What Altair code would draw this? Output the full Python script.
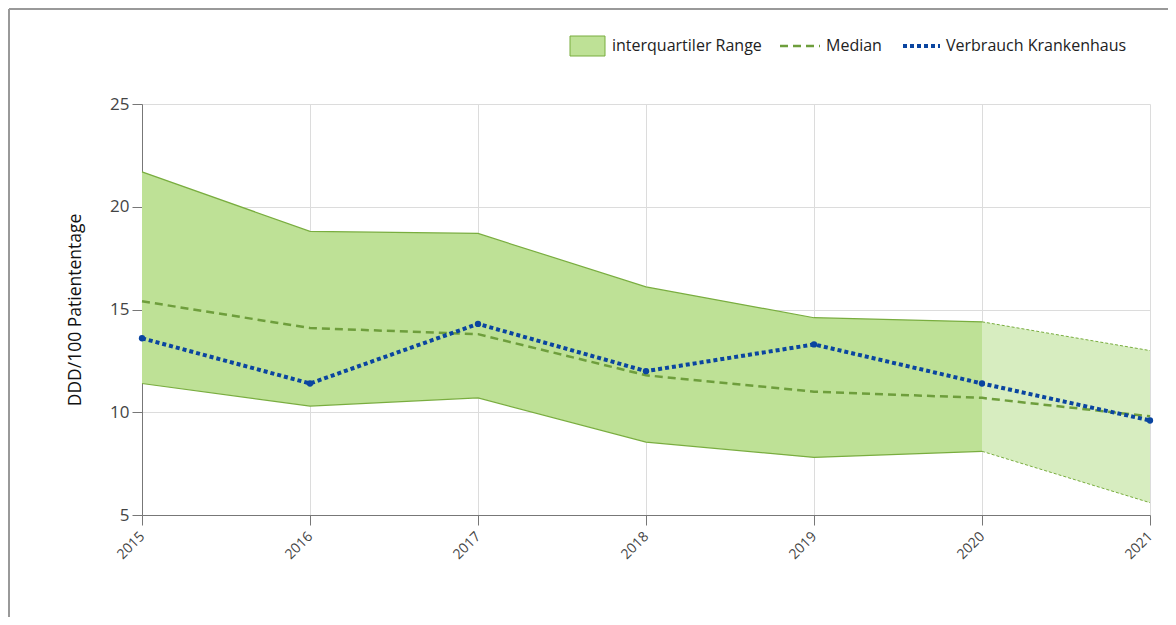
import altair as alt
import pandas as pd

years = [2015, 2016, 2017, 2018, 2019, 2020, 2021]
q_upper = [21.7, 18.8, 18.7, 16.1, 14.6, 14.4, 13.0]
q_lower = [11.4, 10.3, 10.7, 8.55, 7.8, 8.1, 5.6]
median = [15.4, 14.1, 13.8, 11.8, 11.0, 10.7, 9.8]
hospital = [13.6, 11.4, 14.3, 12.0, 13.3, 11.4, 9.6]

FONT = "Open Sans"
W, H = 1008, 411
GREEN_FILL = "#BEE196"
GREEN_LINE = "#79AD3F"
MED_COL = "#6E9E3C"
BLUE = "#0A45A0"

df = pd.DataFrame({"year": years, "lo": q_lower, "hi": q_upper,
                   "med": median, "hosp": hospital})
solid = df[df.year <= 2020]
proj = df[df.year >= 2020]

x = alt.X("year:Q", scale=alt.Scale(domain=[2015, 2021], nice=False, zero=False),
          axis=alt.Axis(values=years, format="d", title=None, labelAngle=315,
                        labelAlign="right", labelBaseline="middle", labelFontSize=14,
                        labelColor="#444", labelFont=FONT, tickSize=10, tickColor="#777",
                        domainColor="#777", gridColor="#DCDCDC", labelPadding=9))
yax = alt.Axis(values=[5, 10, 15, 20, 25], title="DDD/100 Patiententage",
               titleFont=FONT, titleFontSize=17.5, titleFontWeight="normal",
               titleColor="#111", titlePadding=25, labelFont=FONT, labelFontSize=17,
               labelColor="#444", tickSize=10, tickColor="#777", domainColor="#777",
               gridColor="#DCDCDC", labelPadding=3)
y_lo = alt.Y("lo:Q", scale=alt.Scale(domain=[5, 25], nice=False, zero=False), axis=yax)

area_solid = alt.Chart(solid).mark_area(color=GREEN_FILL, opacity=1).encode(
    x=x, y=y_lo, y2="hi:Q")
area_proj = alt.Chart(proj).mark_area(color="#D7EDC0", opacity=1).encode(
    x="year:Q", y="lo:Q", y2="hi:Q")
lo_solid = alt.Chart(solid).mark_line(color=GREEN_LINE, strokeWidth=1.2).encode(
    x="year:Q", y="lo:Q")
hi_solid = alt.Chart(solid).mark_line(color=GREEN_LINE, strokeWidth=1.2).encode(
    x="year:Q", y="hi:Q")
lo_proj = alt.Chart(proj).mark_line(color=GREEN_LINE, strokeWidth=1, strokeDash=[3, 2]).encode(
    x="year:Q", y="lo:Q")
hi_proj = alt.Chart(proj).mark_line(color=GREEN_LINE, strokeWidth=1, strokeDash=[3, 2]).encode(
    x="year:Q", y="hi:Q")
med_line = alt.Chart(df).mark_line(color=MED_COL, strokeWidth=2.5, strokeDash=[8, 5]).encode(
    x="year:Q", y="med:Q")
hosp_line = alt.Chart(df).mark_line(color=BLUE, strokeWidth=4, strokeDash=[4, 3]).encode(
    x="year:Q", y="hosp:Q")
hosp_pts = alt.Chart(df).mark_circle(color=BLUE, size=40, opacity=1).encode(
    x="year:Q", y="hosp:Q")

# legend (decoration)
leg = pd.DataFrame({"k": [0]})
base = alt.Chart(leg)
leg_rect = base.mark_rect(fill=GREEN_FILL, stroke=GREEN_LINE, strokeWidth=1).encode(
    x=alt.value(428), x2=alt.value(463), y=alt.value(-68), y2=alt.value(-48))
leg_t1 = base.mark_text(text="interquartiler Range", align="left", baseline="middle",
                        font=FONT, fontSize=16, color="#222").encode(
    x=alt.value(470), y=alt.value(-58))
leg_med = base.mark_rule(color=MED_COL, strokeWidth=2.5, strokeDash=[8, 5]).encode(
    x=alt.value(638), x2=alt.value(678), y=alt.value(-58))
leg_t2 = base.mark_text(text="Median", align="left", baseline="middle",
                        font=FONT, fontSize=16, color="#222").encode(
    x=alt.value(684), y=alt.value(-58))
leg_hosp = base.mark_rule(color=BLUE, strokeWidth=4, strokeDash=[4, 3]).encode(
    x=alt.value(761), x2=alt.value(798), y=alt.value(-58))
leg_t3 = base.mark_text(text="Verbrauch Krankenhaus", align="left", baseline="middle",
                        font=FONT, fontSize=16, color="#222").encode(
    x=alt.value(804), y=alt.value(-58))
frame_l = base.mark_rule(color="#999", strokeWidth=2).encode(
    x=alt.value(-133), y=alt.value(-95), y2=alt.value(H + 110))
frame_t = base.mark_rule(color="#999", strokeWidth=2).encode(
    x=alt.value(-133), x2=alt.value(W + 20), y=alt.value(-95))

chart = alt.layer(area_solid, area_proj, lo_solid, hi_solid, lo_proj, hi_proj,
                  med_line, hosp_line, hosp_pts,
                  leg_rect, leg_t1, leg_med, leg_t2, leg_hosp, leg_t3,
                  frame_l, frame_t).properties(
    width=W, height=H, autosize=alt.AutoSizeParams(type="none"),
    padding={"left": 134, "top": 96, "right": 18, "bottom": 102},
    background="white"
).configure_view(stroke=None)

chart.save("out.html", embed_options={"renderer": "svg", "actions": False})
